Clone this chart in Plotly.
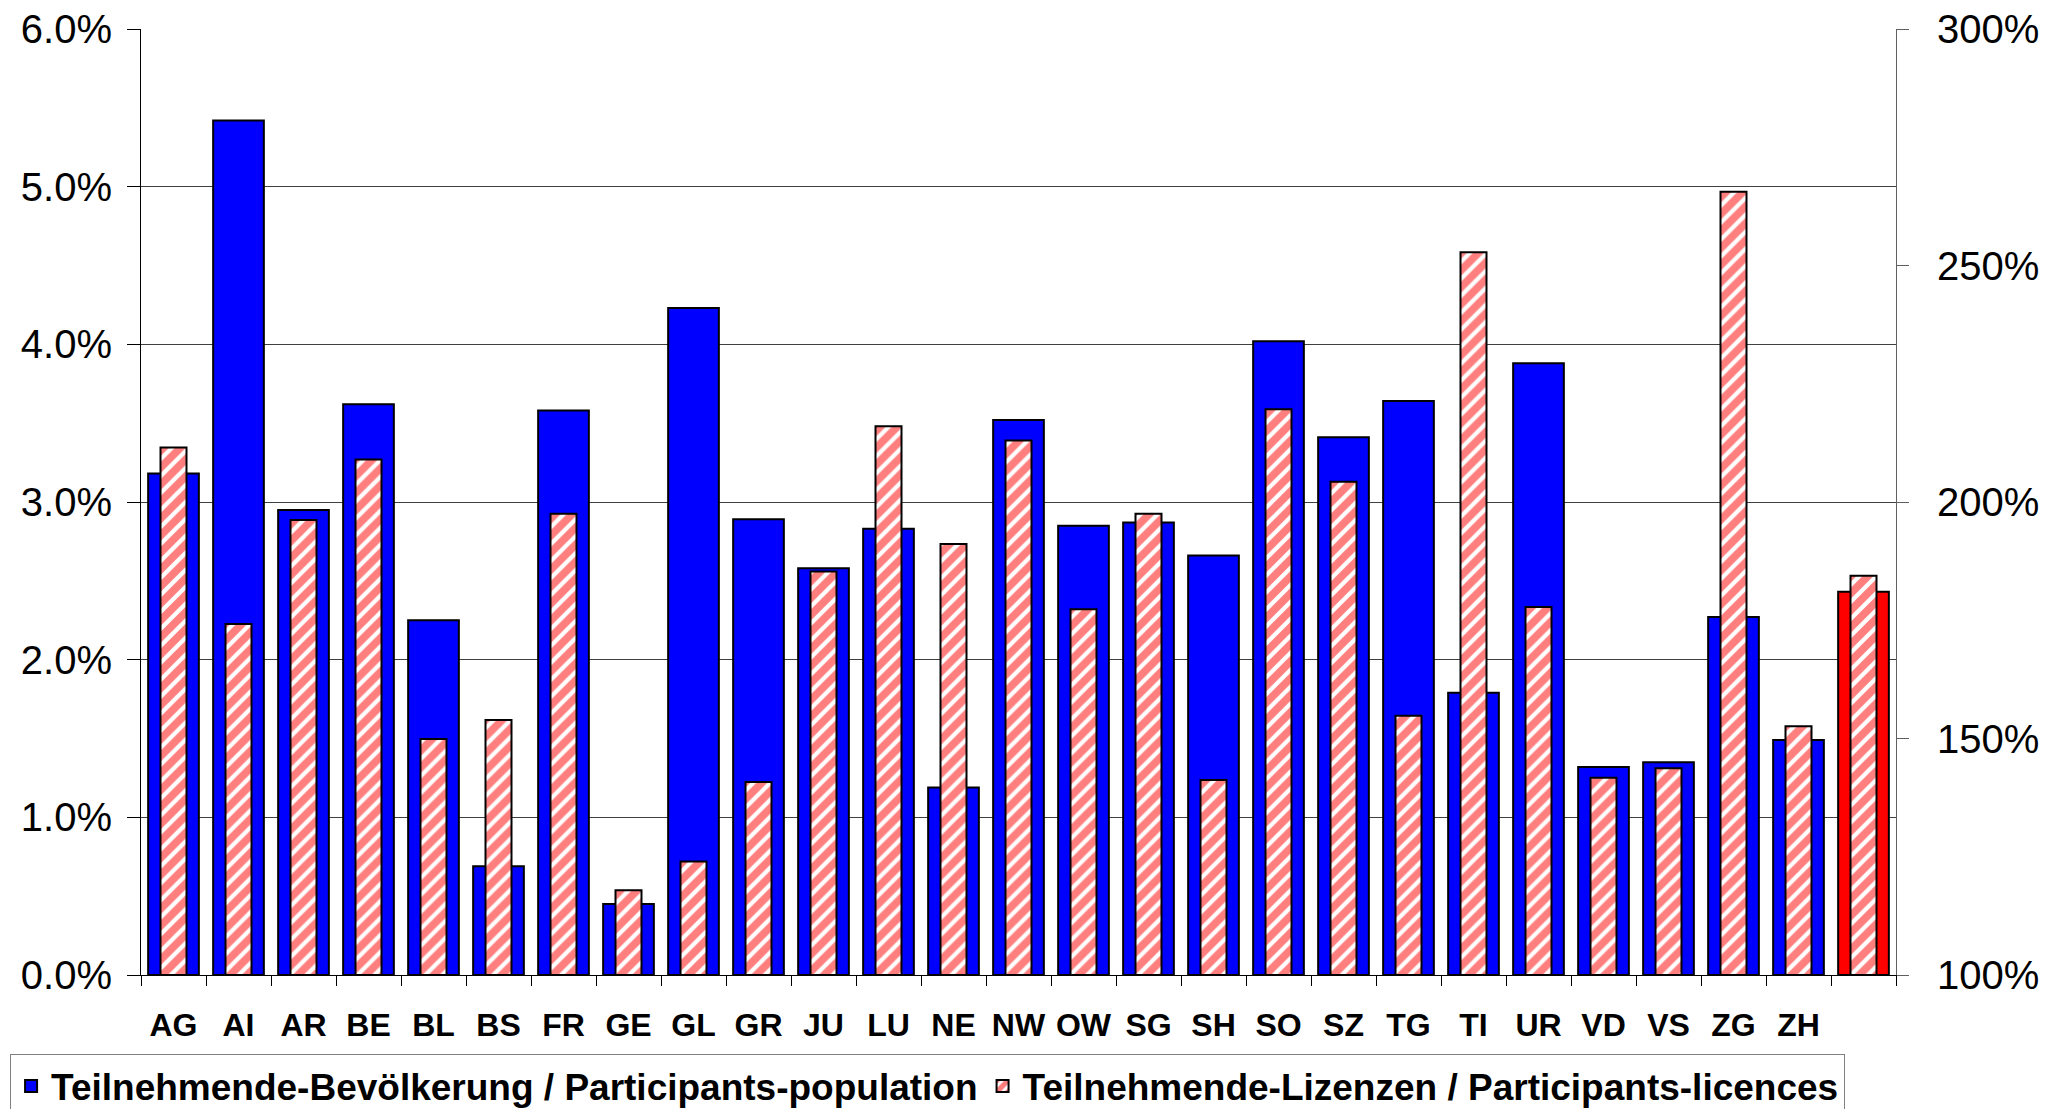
import plotly.graph_objects as go

# canton codes, last bar is the overall total (no label)
cantons = ["AG", "AI", "AR", "BE", "BL", "BS", "FR", "GE", "GL", "GR", "JU", "LU", "NE",
           "NW", "OW", "SG", "SH", "SO", "SZ", "TG", "TI", "UR", "VD", "VS", "ZG", "ZH", " "]

# participants / population [%] (left axis)
share_population = [3.18, 5.42, 2.95, 3.62, 2.25, 0.69, 3.58, 0.45, 4.23, 2.89, 2.58, 2.83, 1.19,
                    3.52, 2.85, 2.87, 2.66, 4.02, 3.41, 3.64, 1.79, 3.88, 1.32, 1.35, 2.27, 1.49, 2.43]

# participants / licences [%] (right axis)
share_licences = [211.5, 174.2, 196.2, 209.0, 149.9, 153.9, 197.5, 117.9, 124.0, 140.8, 185.3, 216.0, 191.1,
                  213.0, 177.3, 197.5, 141.2, 219.6, 204.3, 154.8, 252.8, 177.8, 141.7, 143.7, 265.6, 152.6, 184.4]

name_pop = "Teilnehmende-Bevölkerung / Participants-population"
name_lic = "Teilnehmende-Lizenzen / Participants-licences"

tick_font = dict(family="Liberation Sans, Arial", size=40, color="black")
cat_font = dict(family="Liberation Sans, Arial", size=32, color="black", weight="bold")
legend_font = dict(family="Liberation Sans, Arial", size=37, color="black", weight="bold")

# last bar (total) drawn in red
pop_colors = ["#0000FF"] * (len(cantons) - 1) + ["#FF0000"]

fig = go.Figure()
fig.add_trace(
    go.Bar(
        x=cantons,
        y=share_population,
        name=name_pop,
        width=0.78,
        marker=dict(color=pop_colors, line=dict(color="black", width=2)),
        yaxis="y",
    )
)
# licence bars start at the 100% floor of the right axis
fig.add_trace(
    go.Bar(
        x=cantons,
        y=[v - 100 for v in share_licences],
        base=100,
        name=name_lic,
        width=0.40,
        marker=dict(
            color="white",
            line=dict(color="black", width=2),
            pattern=dict(shape="/", fgcolor="#FF0000", bgcolor="white", size=12, solidity=0.65),
        ),
        yaxis="y2",
    )
)

# page body has an 8px margin, so the figure is made 8px smaller
fig.update_layout(
    width=2041,
    height=1101,
    margin=dict(l=133, r=153, t=21, b=134, autoexpand=False),
    paper_bgcolor="white",
    plot_bgcolor="white",
    barmode="overlay",
    showlegend=True,
    legend=dict(
        orientation="h",
        x=-0.0746,
        xanchor="left",
        y=-0.084,
        yanchor="top",
        font=legend_font,
        bordercolor="#808080",
        borderwidth=1,
        itemwidth=30,
        tracegroupgap=0,
    ),
    xaxis=dict(
        type="category",
        tickfont=cat_font,
        showline=True,
        linecolor="black",
        linewidth=1,
        ticks="outside",
        tickson="boundaries",
        ticklen=10,
        tickcolor="black",
        ticklabelstandoff=22,
        showgrid=False,
        automargin=False,
    ),
    yaxis=dict(
        range=[0, 6],
        dtick=1,
        tickformat=".1f",
        ticksuffix="%",
        tickfont=tick_font,
        showline=True,
        linecolor="black",
        linewidth=1,
        ticks="outside",
        ticklen=13,
        tickcolor="black",
        showgrid=True,
        gridcolor="#404040",
        gridwidth=1,
        zeroline=False,
        ticklabelstandoff=7,
        ticklabeloverflow="allow",
        automargin=False,
    ),
    yaxis2=dict(
        overlaying="y",
        side="right",
        range=[100, 300],
        dtick=50,
        ticksuffix="%",
        tickfont=tick_font,
        showline=True,
        linecolor="#606060",
        linewidth=1,
        ticks="outside",
        ticklen=12,
        tickcolor="#606060",
        showgrid=False,
        zeroline=False,
        ticklabelstandoff=20,
        ticklabeloverflow="allow",
        automargin=False,
    ),
)

fig.write_html("out.html")
